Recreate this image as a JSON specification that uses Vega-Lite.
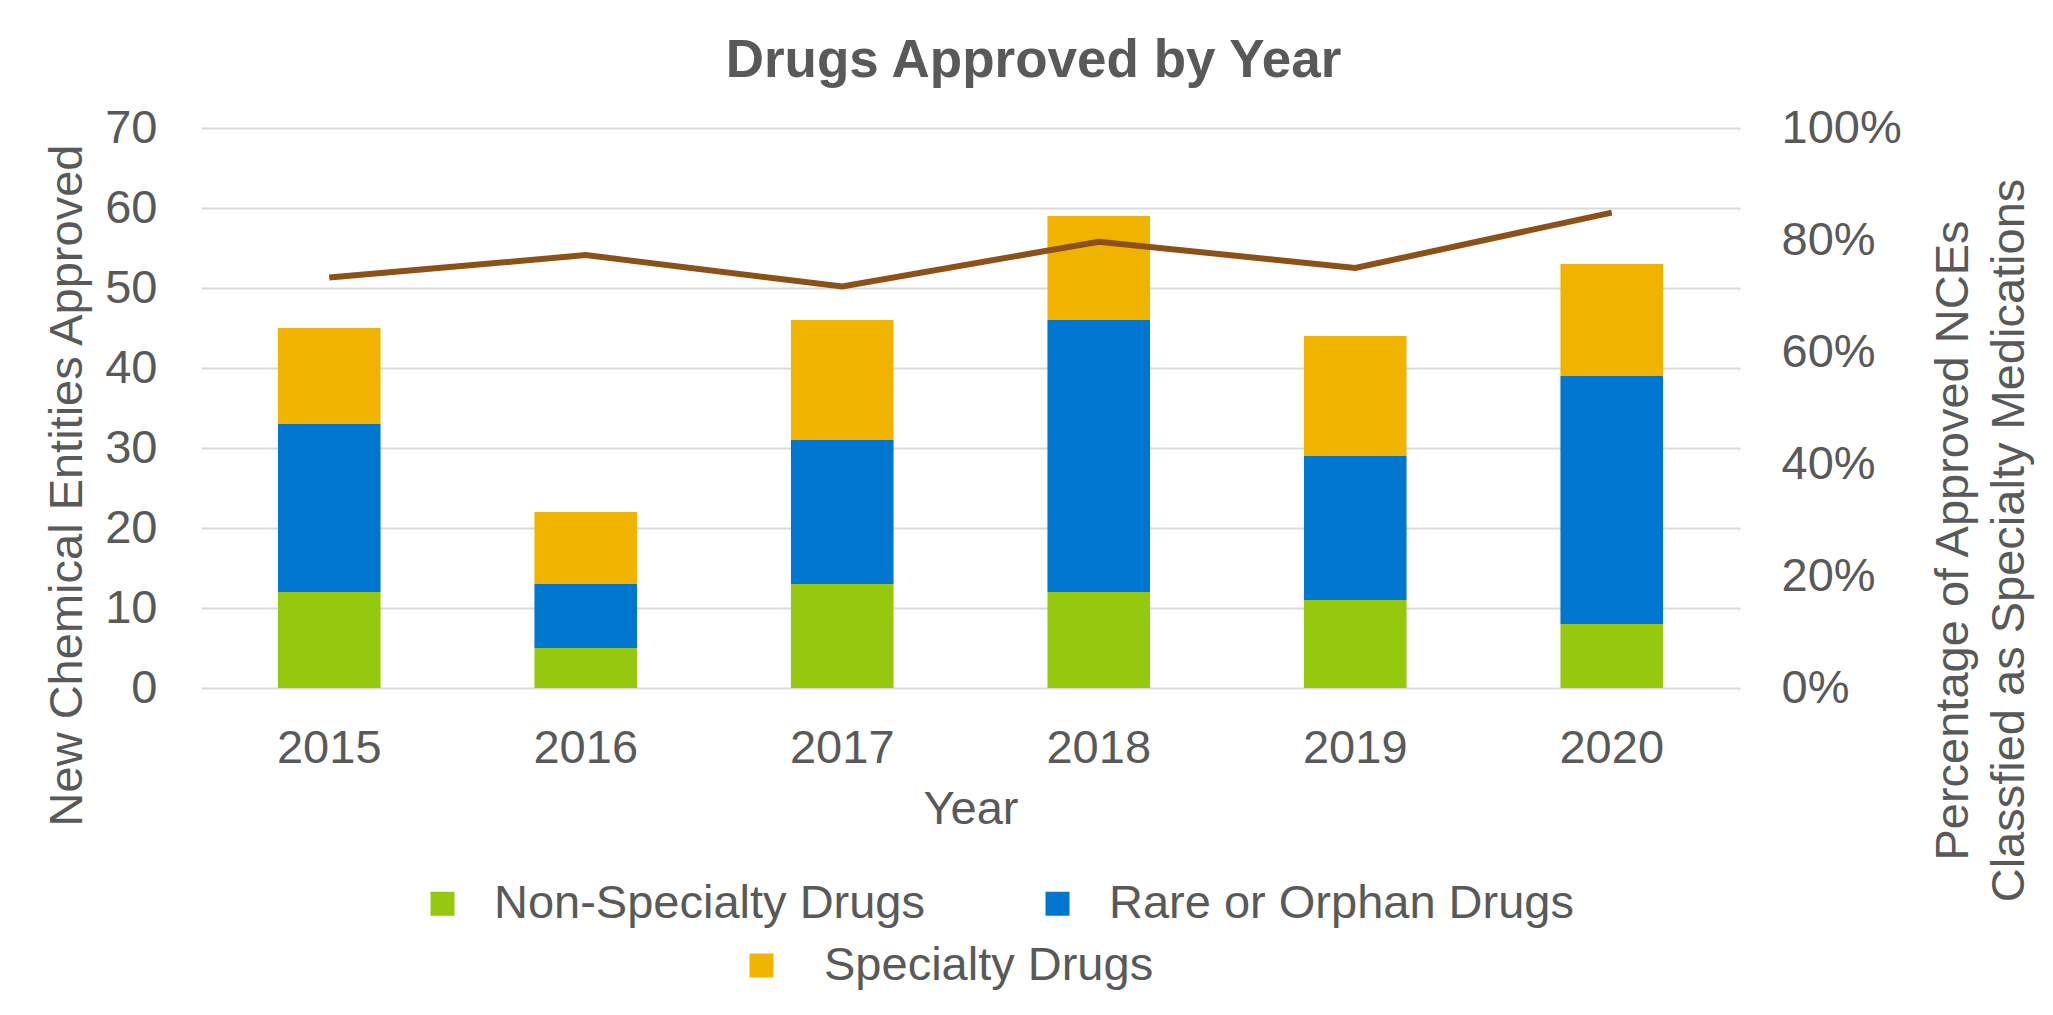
{
  "$schema": "https://vega.github.io/schema/vega-lite/v6.json",
  "width": 1539,
  "height": 560,
  "autosize": {"type": "none"},
  "padding": {"left": 201, "top": 128, "right": 313, "bottom": 327},
  "background": "white",
  "title": {
    "text": "Drugs Approved by Year",
    "fontSize": 53,
    "fontWeight": "bold",
    "font": "Liberation Sans",
    "color": "#595959",
    "anchor": "middle",
    "dx": 63,
    "offset": 16
  },
  "datasets": {
    "bars": [
      {"year": "2015", "type": "Non-Specialty Drugs", "count": 12},
      {"year": "2015", "type": "Rare or Orphan Drugs", "count": 21},
      {"year": "2015", "type": "Specialty Drugs", "count": 12},
      {"year": "2016", "type": "Non-Specialty Drugs", "count": 5},
      {"year": "2016", "type": "Rare or Orphan Drugs", "count": 8},
      {"year": "2016", "type": "Specialty Drugs", "count": 9},
      {"year": "2017", "type": "Non-Specialty Drugs", "count": 13},
      {"year": "2017", "type": "Rare or Orphan Drugs", "count": 18},
      {"year": "2017", "type": "Specialty Drugs", "count": 15},
      {"year": "2018", "type": "Non-Specialty Drugs", "count": 12},
      {"year": "2018", "type": "Rare or Orphan Drugs", "count": 34},
      {"year": "2018", "type": "Specialty Drugs", "count": 13},
      {"year": "2019", "type": "Non-Specialty Drugs", "count": 11},
      {"year": "2019", "type": "Rare or Orphan Drugs", "count": 18},
      {"year": "2019", "type": "Specialty Drugs", "count": 15},
      {"year": "2020", "type": "Non-Specialty Drugs", "count": 8},
      {"year": "2020", "type": "Rare or Orphan Drugs", "count": 31},
      {"year": "2020", "type": "Specialty Drugs", "count": 14}
    ],
    "line": [
      {"year": "2015", "pct": 0.733},
      {"year": "2016", "pct": 0.773},
      {"year": "2017", "pct": 0.717},
      {"year": "2018", "pct": 0.797},
      {"year": "2019", "pct": 0.75},
      {"year": "2020", "pct": 0.849}
    ]
  },
  "encoding": {
    "x": {
      "field": "year",
      "type": "ordinal",
      "scale": {"paddingInner": 0.6, "paddingOuter": 0.3},
      "axis": {
        "title": "Year",
        "labelAngle": 0,
        "ticks": false,
        "tickSize": 0,
        "domain": false,
        "labelPadding": 37,
        "titlePadding": 15
      }
    }
  },
  "layer": [
    {
      "data": {"name": "line"},
      "mark": {"type": "point", "filled": true, "color": "#F0B300", "opacity": 0, "size": 10},
      "encoding": {
        "shape": {
          "datum": "Specialty Drugs",
          "scale": {"domain": ["Specialty Drugs"], "range": ["square"]},
          "legend": {
            "orient": "none",
            "legendX": 537,
            "legendY": 814,
            "direction": "horizontal",
            "title": null,
            "symbolType": "square",
            "symbolSize": 576,
            "symbolFillColor": "#F0B300",
            "symbolStrokeColor": "#F0B300",
            "symbolStrokeWidth": 0,
            "symbolOpacity": 1,
            "labelOffset": 39,
            "labelLimit": 800,
            "padding": 0
          }
        }
      }
    },
    {
      "data": {"name": "bars"},
      "mark": {"type": "bar"},
      "encoding": {
        "y": {
          "field": "count",
          "type": "quantitative",
          "aggregate": "sum",
          "stack": "zero",
          "scale": {"domain": [0, 70]},
          "axis": {
            "title": "New Chemical Entities Approved",
            "values": [0, 10, 20, 30, 40, 50, 60, 70],
            "ticks": false,
            "tickSize": 0,
            "domain": false,
            "grid": true,
            "labelPadding": 44,
            "titleX": -134,
            "titleY": 357,
            "titleAngle": -90,
            "titleAlign": "center",
            "titleBaseline": "middle"
          }
        },
        "color": {
          "field": "type",
          "type": "nominal",
          "scale": {
            "domain": ["Non-Specialty Drugs", "Rare or Orphan Drugs", "Specialty Drugs"],
            "range": ["#94C90F", "#0076CE", "#F0B300"]
          },
          "legend": {
            "values": ["Non-Specialty Drugs", "Rare or Orphan Drugs"],
            "orient": "none",
            "legendX": 218,
            "legendY": 752,
            "direction": "horizontal",
            "title": null,
            "symbolType": "square",
            "symbolSize": 576,
            "symbolStrokeWidth": 0,
            "labelOffset": 28,
            "labelLimit": 800,
            "columnPadding": 108,
            "padding": 0
          }
        },
        "order": {"field": "type", "type": "nominal", "sort": "ascending"}
      }
    },
    {
      "data": {"name": "line"},
      "mark": {"type": "line", "color": "#8B5118", "strokeWidth": 6},
      "encoding": {
        "y": {
          "field": "pct",
          "type": "quantitative",
          "scale": {"domain": [0, 1]},
          "axis": {
            "orient": "right",
            "title": ["Percentage of Approved NCEs", "Classfied as Specialty Medications"],
            "format": ".0%",
            "values": [0, 0.2, 0.4, 0.6, 0.8, 1],
            "grid": false,
            "ticks": false,
            "tickSize": 0,
            "domain": false,
            "labelPadding": 41,
            "titleX": 213,
            "titleY": 412,
            "titleAngle": -90,
            "titleAlign": "center",
            "titleBaseline": "middle",
            "titleLineHeight": 56
          }
        }
      }
    }
  ],
  "resolve": {"scale": {"y": "independent"}},
  "config": {
    "view": {"stroke": null},
    "font": "Liberation Sans",
    "axis": {
      "labelFont": "Liberation Sans",
      "titleFont": "Liberation Sans",
      "labelFontSize": 47,
      "titleFontSize": 47,
      "labelColor": "#595959",
      "titleColor": "#595959",
      "titleFontWeight": "normal",
      "gridColor": "#D9D9D9",
      "gridWidth": 2,
      "labelLimit": 400
    },
    "legend": {
      "labelFont": "Liberation Sans",
      "labelFontSize": 47,
      "labelColor": "#595959"
    }
  }
}
